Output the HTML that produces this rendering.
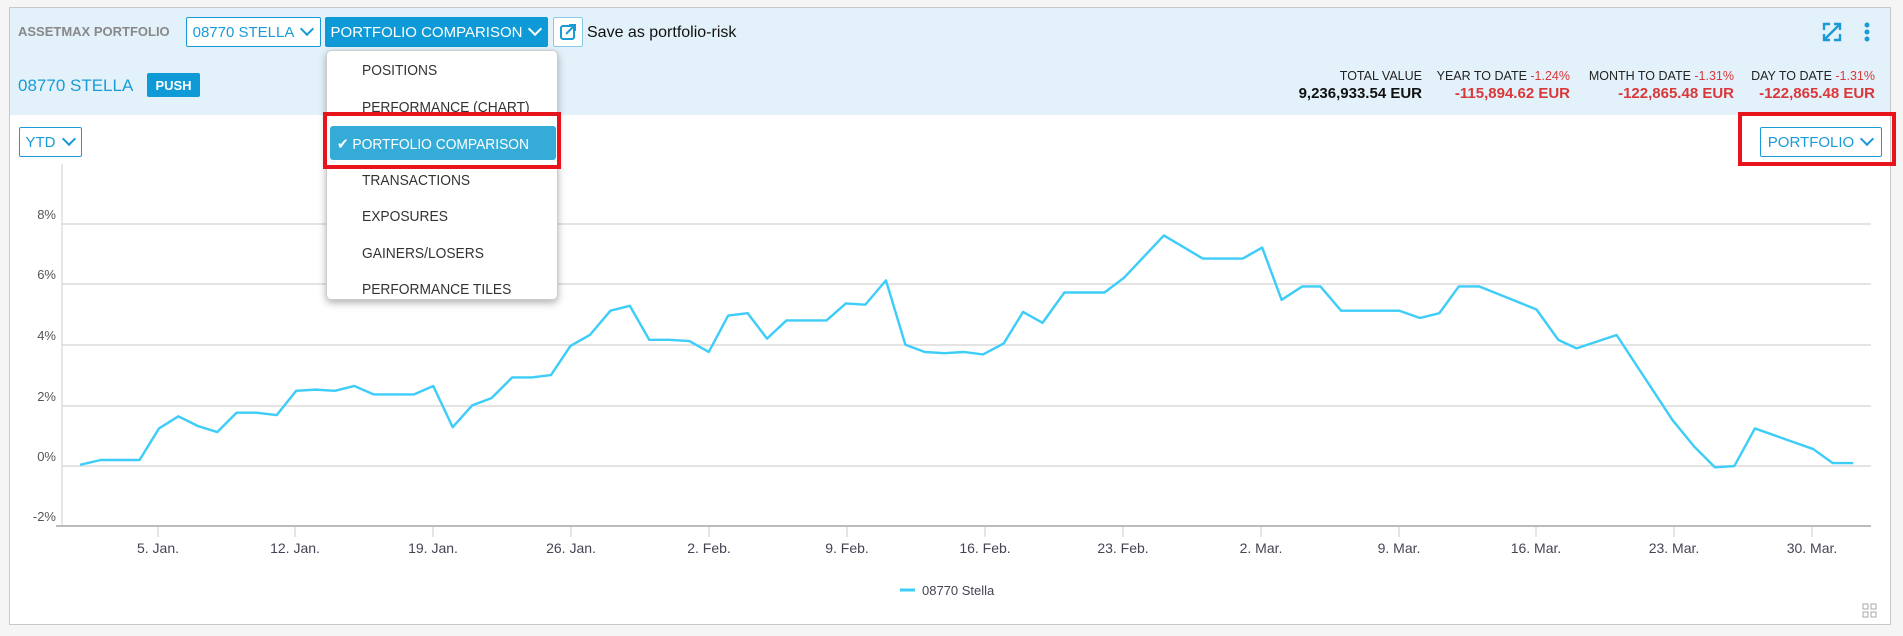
<!DOCTYPE html>
<html><head><meta charset="utf-8"><style>
*{box-sizing:border-box;margin:0;padding:0}
body{width:1903px;height:636px;background:#f5f5f5;font-family:"Liberation Sans",sans-serif;position:relative;overflow:hidden}
.a{position:absolute;white-space:nowrap}
.panel{left:9px;top:7px;width:1882px;height:618px;background:#fff;border:1px solid #c8c8c8}
.band{left:10px;top:8px;width:1880px;height:107px;background:#e3f2fa}
.btn{border:1px solid #1a9bd7;color:#1a9bd7;font-size:15px;border-radius:2px;background:#fff;display:flex;align-items:center;justify-content:center}
.chev{display:inline-block;width:10px;height:10px;border-right:2px solid currentColor;border-bottom:2px solid currentColor;transform:rotate(45deg);margin:-6px 2px 0 8px}
.menu{left:326px;top:50px;width:232px;height:250px;background:#fff;border:1px solid #ccc;border-radius:5px;box-shadow:0 3px 8px rgba(0,0,0,.3)}
.mi{position:absolute;left:35px;font-size:15px;color:#333;transform:scaleX(.92);transform-origin:left}
.lab{font-size:12.5px;color:#222;text-align:right}
.val{font-size:15px;font-weight:bold;text-align:right}
.red{color:#d9383a}
.yl{font-size:13px;color:#555;text-align:right;width:40px;left:16px}
.xl{font-size:14px;color:#445;transform:translateX(-50%)}
</style></head><body>
<div class="a panel"></div>
<div class="a band"></div>
<div class="a" style="left:18px;top:24px;font-size:13px;font-weight:bold;color:#888">ASSETMAX PORTFOLIO</div>
<div class="a btn" style="left:186px;top:17px;width:135px;height:30px">08770 STELLA<span class="chev"></span></div>
<div class="a btn" style="left:325px;top:17px;width:223px;height:30px;background:#0e9ad6;color:#fff;border-color:#0e9ad6">PORTFOLIO COMPARISON<span class="chev"></span></div>
<div class="a btn" style="left:553px;top:17px;width:30px;height:30px;border-color:#8ccbe8"><svg width="16" height="16" viewBox="0 0 16 16"><rect x="1" y="2" width="13" height="13" rx="2" fill="none" stroke="#1a9bd7" stroke-width="2"/><path d="M6 10 L14 2 M9 1 H15 V7" stroke="#1a9bd7" stroke-width="2" fill="none"/></svg></div>
<div class="a" style="left:587px;top:24px;font-size:16px;color:#111">Save as portfolio-risk</div>
<div class="a" style="left:18px;top:76px;font-size:17px;color:#1a9bd7">08770 STELLA</div>
<div class="a" style="left:147px;top:73px;width:53px;height:24px;background:#0e9ad6;color:#fff;font-weight:bold;font-size:13px;display:flex;align-items:center;justify-content:center;border-radius:2px">PUSH</div>
<div class="a" style="left:1822px;top:22px;width:20px;height:20px"><svg width="20" height="20" viewBox="0 0 20 20" fill="none" stroke="#1a9bd7" stroke-width="2.4"><path d="M2 8V2H8M12 18H18V12M3 17L17 3M12 2H18V8M8 18H2V12"/></svg></div>
<div class="a" style="left:1864px;top:22px;width:6px;height:22px"><svg width="6" height="22"><circle cx="3" cy="3" r="2.5" fill="#1a9bd7"/><circle cx="3" cy="10" r="2.5" fill="#1a9bd7"/><circle cx="3" cy="17" r="2.5" fill="#1a9bd7"/></svg></div>
<div class="a lab" style="right:481px;top:69px">TOTAL VALUE</div>
<div class="a val" style="right:481px;top:85px;color:#111">9,236,933.54 EUR</div>
<div class="a lab" style="right:333px;top:69px">YEAR TO DATE <span class="red">-1.24%</span></div>
<div class="a val red" style="right:333px;top:85px">-115,894.62 EUR</div>
<div class="a lab" style="right:169px;top:69px">MONTH TO DATE <span class="red">-1.31%</span></div>
<div class="a val red" style="right:169px;top:85px">-122,865.48 EUR</div>
<div class="a lab" style="right:28px;top:69px">DAY TO DATE <span class="red">-1.31%</span></div>
<div class="a val red" style="right:28px;top:85px">-122,865.48 EUR</div>
<div class="a btn" style="left:19px;top:127px;width:63px;height:30px">YTD<span class="chev"></span></div>
<div class="a btn" style="left:1760px;top:127px;width:122px;height:30px">PORTFOLIO<span class="chev"></span></div>
<div class="a" style="left:1738px;top:112px;width:158px;height:54px;border:4px solid #e8141c"></div>
<svg class="a" style="left:0;top:0" width="1903" height="636">
<g stroke="#dcdcdc" stroke-width="1.5">
<line x1="62" y1="224" x2="1871" y2="224"/><line x1="62" y1="284" x2="1871" y2="284"/><line x1="62" y1="345" x2="1871" y2="345"/><line x1="62" y1="406" x2="1871" y2="406"/><line x1="62" y1="466" x2="1871" y2="466"/>
</g>
<line x1="62" y1="164" x2="62" y2="526" stroke="#ccc"/>
<line x1="56" y1="526" x2="1871" y2="526" stroke="#bbb" stroke-width="2"/>
<g stroke="#ccc"><line x1="158" y1="527" x2="158" y2="537"/><line x1="295" y1="527" x2="295" y2="537"/><line x1="433" y1="527" x2="433" y2="537"/><line x1="571" y1="527" x2="571" y2="537"/><line x1="709" y1="527" x2="709" y2="537"/><line x1="847" y1="527" x2="847" y2="537"/><line x1="985" y1="527" x2="985" y2="537"/><line x1="1123" y1="527" x2="1123" y2="537"/><line x1="1261" y1="527" x2="1261" y2="537"/><line x1="1399" y1="527" x2="1399" y2="537"/><line x1="1536" y1="527" x2="1536" y2="537"/><line x1="1674" y1="527" x2="1674" y2="537"/><line x1="1812" y1="527" x2="1812" y2="537"/></g>
<line x1="900" y1="590" x2="915" y2="590" stroke="#3dcdf8" stroke-width="3"/>
<g><rect x="1863" y="604" width="5" height="5" fill="none" stroke="#aaa"/><rect x="1871" y="604" width="5" height="5" fill="none" stroke="#aaa"/><rect x="1863" y="612" width="5" height="5" fill="none" stroke="#aaa"/><rect x="1871" y="612" width="5" height="5" fill="none" stroke="#aaa"/></g>
</svg>
<svg class="a" style="left:0;top:0" width="1903" height="636" viewBox="0 0 1568 524">
<polyline fill="none" stroke="#3dcdf8" stroke-width="2" stroke-linejoin="round" points="66,383 83,379 99,379 115,379 131,353 147,343 163,351 179,356 195,340 211,340 228,342 244,322 260,321 276,322 292,318 308,325 325,325 341,325 357,318 373,352 389,334 405,328 422,311 438,311 454,309 470,285 486,276 503,256 519,252 535,280 551,280 568,281 584,290 600,260 616,258 632,279 648,264 665,264 681,264 697,250 713,251 730,231 746,284 762,290 778,291 794,290 810,292 827,283 843,257 859,266 877,241 910,241 926,229 959,194 991,213 1024,213 1040,204 1056,247 1073,236 1088,236 1105,256 1153,256 1170,262 1186,258 1202,236 1219,236 1266,255 1284,280 1299,287 1332,276 1378,346 1396,368 1413,385 1429,384 1446,353 1494,370 1510,381.5 1527,381.5"/>
</svg>
<div class="a yl" style="top:207px">8%</div>
<div class="a yl" style="top:267px">6%</div>
<div class="a yl" style="top:328px">4%</div>
<div class="a yl" style="top:389px">2%</div>
<div class="a yl" style="top:449px">0%</div>
<div class="a yl" style="top:509px">-2%</div>
<div class="a xl" style="left:158px;top:540px">5. Jan.</div>
<div class="a xl" style="left:295px;top:540px">12. Jan.</div>
<div class="a xl" style="left:433px;top:540px">19. Jan.</div>
<div class="a xl" style="left:571px;top:540px">26. Jan.</div>
<div class="a xl" style="left:709px;top:540px">2. Feb.</div>
<div class="a xl" style="left:847px;top:540px">9. Feb.</div>
<div class="a xl" style="left:985px;top:540px">16. Feb.</div>
<div class="a xl" style="left:1123px;top:540px">23. Feb.</div>
<div class="a xl" style="left:1261px;top:540px">2. Mar.</div>
<div class="a xl" style="left:1399px;top:540px">9. Mar.</div>
<div class="a xl" style="left:1536px;top:540px">16. Mar.</div>
<div class="a xl" style="left:1674px;top:540px">23. Mar.</div>
<div class="a xl" style="left:1812px;top:540px">30. Mar.</div>
<div class="a" style="left:922px;top:583px;font-size:13px;color:#445">08770 Stella</div>
<div class="a menu">
<div class="mi" style="top:11px">POSITIONS</div>
<div class="mi" style="top:48px">PERFORMANCE (CHART)</div>
<div style="position:absolute;left:3px;top:75px;width:226px;height:34px;background:#35acd8;border-radius:3px"></div>
<div class="mi" style="top:84px;left:10px;color:#fff">&#10004; PORTFOLIO COMPARISON</div>
<div class="mi" style="top:121px">TRANSACTIONS</div>
<div class="mi" style="top:157px">EXPOSURES</div>
<div class="mi" style="top:194px">GAINERS/LOSERS</div>
<div class="mi" style="top:230px">PERFORMANCE TILES</div>
</div>
<div class="a" style="left:323px;top:112px;width:238px;height:57px;border:4px solid #e8141c"></div>
</body></html>
